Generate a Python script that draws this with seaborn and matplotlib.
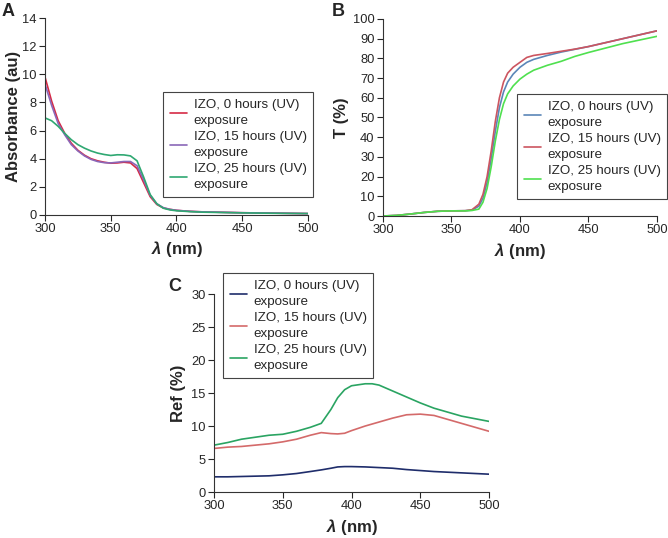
import numpy as np
import pandas as pd
import matplotlib
matplotlib.use("Agg")
import matplotlib.pyplot as plt
import seaborn as sns

sns.set_style("ticks")
plt.rcParams['font.family'] = ['Liberation Sans', 'DejaVu Sans']
plt.rcParams['mathtext.fontset'] = 'custom'
plt.rcParams['mathtext.it'] = 'Liberation Sans:italic:bold'
plt.rcParams['mathtext.rm'] = 'Liberation Sans:bold'

labels = ["IZO, 0 hours (UV)\nexposure", "IZO, 15 hours (UV)\nexposure",
          "IZO, 25 hours (UV)\nexposure"]

# Panel A - absorbance
wl_a = [300, 305, 310, 315, 320, 325, 330, 335, 340, 345, 350, 355, 360, 365,
        370, 375, 380, 385, 390, 395, 400, 410, 420, 450, 475, 500]
abs_0h = [9.8, 8.1, 6.7, 5.8, 5.1, 4.6, 4.25, 4.0, 3.85, 3.75, 3.68, 3.7, 3.75,
          3.7, 3.3, 2.3, 1.3, 0.75, 0.5, 0.4, 0.33, 0.26, 0.22, 0.16, 0.13, 0.1]
abs_15h = [9.3, 7.8, 6.5, 5.7, 5.0, 4.55, 4.2, 3.95, 3.8, 3.72, 3.7, 3.75, 3.8,
           3.8, 3.5, 2.5, 1.4, 0.8, 0.52, 0.4, 0.33, 0.26, 0.22, 0.16, 0.13, 0.1]
abs_25h = [6.9, 6.7, 6.3, 5.8, 5.35, 5.0, 4.75, 4.55, 4.4, 4.3, 4.23, 4.28, 4.27,
           4.2, 3.85, 2.7, 1.45, 0.8, 0.48, 0.36, 0.3, 0.24, 0.2, 0.15, 0.12, 0.1]

# Panel B - transmittance
wl_b = [300, 310, 320, 330, 340, 350, 360, 365, 370, 373, 376, 379, 382, 385,
        388, 391, 395, 400, 405, 410, 420, 430, 440, 450, 475, 500]
t_0h = [0, 0.3, 1.0, 1.8, 2.4, 2.6, 2.7, 3.0, 5.0, 9, 17, 29, 43, 55,
        63, 68, 72, 75.5, 78, 79.5, 81.5, 83.2, 84.6, 86, 90, 94]
t_15h = [0, 0.3, 1.0, 1.8, 2.4, 2.6, 2.7, 3.2, 6.0, 11, 20, 33, 48, 60,
         68, 72.5, 75.5, 78, 80.5, 81.5, 82.5, 83.6, 84.7, 86, 90, 94]
t_25h = [0, 0.3, 1.0, 1.8, 2.4, 2.6, 2.6, 2.8, 3.5, 7, 14, 25, 38, 49,
         57, 62, 66, 69.5, 72, 74, 76.5, 78.5, 81, 83, 87.5, 91.2]

# Panel C - reflectance
wl_c = [300, 310, 320, 330, 340, 350, 360, 370, 378, 385, 390, 395, 400, 410,
        415, 420, 430, 440, 450, 460, 470, 480, 490, 500]
ref_0h = [2.3, 2.3, 2.35, 2.4, 2.45, 2.6, 2.8, 3.1, 3.35, 3.6, 3.8, 3.85, 3.85, 3.8,
          3.75, 3.7, 3.6, 3.4, 3.25, 3.1, 3.0, 2.9, 2.8, 2.7]
ref_15h = [6.6, 6.8, 6.9, 7.1, 7.3, 7.6, 8.0, 8.6, 9.0, 8.85, 8.8, 8.9, 9.3, 10.0,
           10.3, 10.6, 11.2, 11.7, 11.8, 11.6, 11.0, 10.4, 9.8, 9.2]
ref_25h = [7.1, 7.5, 8.0, 8.3, 8.6, 8.75, 9.2, 9.8, 10.4, 12.5, 14.3, 15.5, 16.1, 16.4,
           16.4, 16.2, 15.3, 14.4, 13.5, 12.7, 12.1, 11.5, 11.1, 10.7]

fig = plt.figure(figsize=(6.68, 5.38), dpi=100)
axA = fig.add_axes([0.0674, 0.6004, 0.3936, 0.3661])
axB = fig.add_axes([0.5733, 0.5985, 0.4102, 0.3662])
axC = fig.add_axes([0.3204, 0.0855, 0.4116, 0.3680])

xlab = r'$\lambda$ (nm)'


def draw(ax, x, series, colors, ylim, yticks, ylabel, ypad, leg_box):
    for y, c, lab in zip(series, colors, labels):
        sns.lineplot(x=x, y=y, ax=ax, color=c, lw=1.2, label=lab)
    ax.set_xlim(300, 500)
    ax.set_ylim(*ylim)
    ax.set_xticks([300, 350, 400, 450, 500])
    ax.set_yticks(yticks)
    ax.tick_params(labelsize=9.3, length=4, width=0.8, direction='out', pad=2)
    ax.set_xlabel(xlab, fontsize=12, fontweight='bold', labelpad=3)
    ax.set_ylabel(ylabel, fontsize=12, fontweight='bold', labelpad=ypad)
    for s in ['left', 'bottom']:
        ax.spines[s].set_color('#333333')
        ax.spines[s].set_linewidth(0.8)
    sns.despine(ax=ax)
    leg = ax.legend(loc='upper left', bbox_to_anchor=leg_box,
                    bbox_transform=fig.transFigure, fontsize=9.6,
                    handlelength=1.3, handletextpad=0.5, labelspacing=0.3,
                    borderpad=0.5, borderaxespad=0, fancybox=False,
                    framealpha=1)
    for t in leg.get_texts():
        t.set_linespacing(1.45)
    leg.get_frame().set_edgecolor('#444444')
    leg.get_frame().set_linewidth(0.8)


draw(axA, wl_a, [abs_0h, abs_15h, abs_25h], ['#d62a45', '#8a67b8', '#2fa872'],
     (0, 14), range(0, 15, 2), 'Absorbance (au)', 1, (163 / 668, 1 - 92 / 538))
draw(axB, wl_b, [t_0h, t_15h, t_25h], ['#5b86b8', '#cc5560', '#4fe04f'],
     (0, 100), range(0, 101, 10), 'T (%)', 3, (517 / 668, 1 - 94 / 538))
draw(axC, wl_c, [ref_0h, ref_15h, ref_25h], ['#1f2d6b', '#d46a6a', '#2aa462'],
     (0, 30), range(0, 31, 5), 'Ref (%)', 4, (223 / 668, 1 - 273 / 538))

fig.text(2 / 668, 1 - 3 / 538, 'A', fontsize=13, fontweight='bold', va='top')
fig.text(332 / 668, 1 - 3 / 538, 'B', fontsize=13, fontweight='bold', va='top')
fig.text(168 / 668, 1 - 278 / 538, 'C', fontsize=13, fontweight='bold', va='top')

fig.savefig('out.png', dpi=100)
